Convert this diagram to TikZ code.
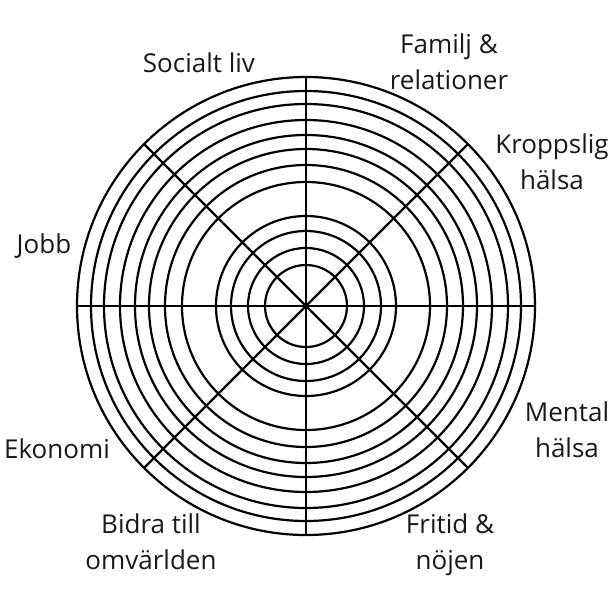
\documentclass[tikz,border=0pt]{standalone}
\usepackage{fontspec}
\setmainfont{Open Sans}
\usetikzlibrary{calc}
\begin{document}
\begin{tikzpicture}[x=1pt,y=-1pt,
  ring/.style={draw=black,line width=2.2pt},
  spoke/.style={draw=black,line width=2.2pt},
  lbl/.style={anchor=base,align=center,font=\fontsize{26}{36}\selectfont,text=black!90,inner sep=0pt}]
\useasboundingbox (0,0) rectangle (614,614);
\fill[white] (0,0) rectangle (614,614);
\coordinate (c) at (306,306);
\foreach \r in {229,215,202,186,171,157,141,124,90,75,58,41}
  \draw[ring] (c) circle[radius=\r];
\foreach \a in {0,45,...,315}{
  \coordinate (e\a) at ($(c)+(\a:229)$);
  \draw[spoke] (c) -- (e\a);
}
\node[lbl] (soc) at (199,72) {Socialt liv};
\node[lbl] (fam) at (449,89) {Familj \&\\relationer};
\node[lbl] (kro) at (552,189) {Kroppslig\\hälsa};
\node[lbl] (job) at (44,253) {Jobb};
\node[lbl] (eko) at (57,458) {Ekonomi};
\node[lbl] (men) at (567,457) {Mental\\hälsa};
\node[lbl] (bid) at (151,569) {Bidra till\\omvärlden};
\node[lbl] (fri) at (450,569) {Fritid \&\\nöjen};
\end{tikzpicture}
\end{document}
